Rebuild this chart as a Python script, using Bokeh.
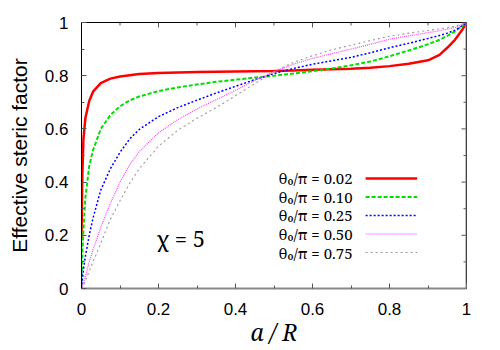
from bokeh.plotting import figure
from bokeh.models import Range1d, FixedTicker, Label, Span
from bokeh.embed import file_html
from bokeh.resources import INLINE

# ---- data ----
a_over_R = [0.0, 0.002, 0.005, 0.01, 0.02, 0.03, 0.05, 0.075, 0.1, 0.125, 0.15, 0.2, 0.25,
            0.3, 0.35, 0.4, 0.45, 0.5, 0.55, 0.6, 0.65, 0.7, 0.75, 0.8, 0.85, 0.9,
            0.93, 0.95, 0.97, 0.99, 1.0]

theta_002 = [0.19, 0.42, 0.56, 0.64, 0.705, 0.74, 0.772, 0.789, 0.797, 0.802, 0.806, 0.81, 0.812,
             0.814, 0.815, 0.816, 0.817, 0.818, 0.82, 0.822, 0.824, 0.826, 0.83, 0.836, 0.845, 0.858,
             0.878, 0.905, 0.935, 0.975, 1.0]
theta_010 = [0.0, 0.12, 0.22, 0.34, 0.46, 0.52, 0.6, 0.652, 0.685, 0.707, 0.722, 0.742, 0.756,
             0.767, 0.777, 0.785, 0.793, 0.8, 0.808, 0.817, 0.827, 0.839, 0.853, 0.873, 0.895, 0.918,
             0.935, 0.95, 0.966, 0.988, 1.0]
theta_025 = [0.0, 0.03, 0.07, 0.12, 0.2, 0.265, 0.37, 0.45, 0.512, 0.562, 0.598, 0.646, 0.68,
             0.708, 0.735, 0.76, 0.785, 0.808, 0.827, 0.843, 0.856, 0.869, 0.886, 0.905, 0.922, 0.94,
             0.951, 0.96, 0.971, 0.989, 1.0]
theta_050 = [0.0, 0.008, 0.02, 0.045, 0.1, 0.145, 0.23, 0.32, 0.4, 0.465, 0.515, 0.585, 0.635,
             0.675, 0.71, 0.745, 0.782, 0.815, 0.843, 0.865, 0.883, 0.9, 0.918, 0.937, 0.95, 0.962,
             0.969, 0.975, 0.981, 0.994, 1.0]
theta_075 = [0.0, 0.004, 0.01, 0.03, 0.065, 0.1, 0.17, 0.26, 0.33, 0.395, 0.45, 0.535, 0.595,
             0.64, 0.68, 0.725, 0.77, 0.815, 0.85, 0.875, 0.897, 0.915, 0.932, 0.948, 0.96, 0.97,
             0.976, 0.98, 0.986, 0.995, 1.0]

series_labels = ["θ₀/π = 0.02", "θ₀/π = 0.10", "θ₀/π = 0.25", "θ₀/π = 0.50", "θ₀/π = 0.75"]
tick_values = [0.0, 0.2, 0.4, 0.6, 0.8, 1.0]
tick_labels = ["0", "0.2", "0.4", "0.6", "0.8", "1"]
minor_tick_values = [0.1, 0.3, 0.5, 0.7, 0.9]

SANS = "Liberation Sans"
SERIF = "Noto Serif"

# ---- styles ----
styles = [
    dict(color="#ff0000", line_width=2.5, line_dash="solid"),
    dict(color="#00e000", line_width=2.0, line_dash="4 2"),
    dict(color="#0000ff", line_width=1.5, line_dash="2 2"),
    dict(color="#ff44ff", line_width=1.2, line_dash="1 1"),
    dict(color="#999999", line_width=1.1, line_dash="2 3"),
]

FRAME_W, FRAME_H = 385, 268
p = figure(width=500, height=350, output_backend="svg", toolbar_location=None,
           x_range=Range1d(0, 1), y_range=Range1d(0, 1),
           min_border_left=81, min_border_right=34, min_border_top=22, min_border_bottom=60)
p.grid.visible = False
p.outline_line_color = "black"
p.outline_line_width = 1
p.background_fill_color = "white"
p.border_fill_color = "white"

ticker = FixedTicker(ticks=tick_values, minor_ticks=minor_tick_values)
overrides = {v: l for v, l in zip(tick_values, tick_labels)}

for ax in (p.xaxis[0], p.yaxis[0]):
    ax.ticker = ticker
    ax.major_label_overrides = overrides
    ax.major_tick_in = 5
    ax.major_tick_out = 0
    ax.minor_tick_in = 3
    ax.minor_tick_out = 0
    ax.major_tick_line_color = "#555555"
    ax.minor_tick_line_color = "#555555"
    ax.major_label_text_font = SANS
    ax.major_label_text_font_size = "17px"
    ax.major_label_text_color = "black"
    ax.axis_label_text_color = "black"

p.xaxis[0].axis_line_color = "#888888"
p.xaxis[0].axis_line_width = 2
p.yaxis[0].axis_line_color = "black"
p.yaxis[0].axis_line_width = 1
p.xaxis[0].major_label_standoff = 14
p.yaxis[0].major_label_standoff = 13

p.xaxis[0].axis_label = "a / R"
p.xaxis[0].axis_label_text_font = SERIF
p.xaxis[0].axis_label_text_font_style = "italic"
p.xaxis[0].axis_label_text_font_size = "23px"
p.xaxis[0].axis_label_standoff = -2

p.yaxis[0].axis_label = "Effective steric factor"
p.yaxis[0].axis_label_text_font = SANS
p.yaxis[0].axis_label_text_font_style = "normal"
p.yaxis[0].axis_label_text_font_size = "21px"
p.yaxis[0].axis_label_standoff = 11

# gray right border
p.add_layout(Span(location=1.0, dimension="height", line_color="#888888", line_width=2))

# mirrored ticks on top and right (inward)
maj_dy, min_dy = 5 / FRAME_H, 3 / FRAME_H
maj_dx, min_dx = 5 / FRAME_W, 3 / FRAME_W
p.segment(x0=tick_values, y0=[1.0] * len(tick_values), x1=tick_values,
          y1=[1.0 - maj_dy] * len(tick_values), line_color="#555555", line_width=1)
p.segment(x0=minor_tick_values, y0=[1.0] * len(minor_tick_values), x1=minor_tick_values,
          y1=[1.0 - min_dy] * len(minor_tick_values), line_color="#555555", line_width=1)
p.segment(x0=[1.0] * len(tick_values), y0=tick_values, x1=[1.0 - maj_dx] * len(tick_values),
          y1=tick_values, line_color="#555555", line_width=1)
p.segment(x0=[1.0] * len(minor_tick_values), y0=minor_tick_values,
          x1=[1.0 - min_dx] * len(minor_tick_values), y1=minor_tick_values,
          line_color="#555555", line_width=1)

all_series = [theta_002, theta_010, theta_025, theta_050, theta_075]
for ys, st in zip(all_series, styles):
    p.line(a_over_R, ys, **st)

# ---- legend (text on the left, sample line on the right) ----
legend_top = 0.414
legend_step = 0.0697
legend_text_x = 0.704
legend_line_x = [0.738, 0.872]
for i, (lab, st) in enumerate(zip(series_labels, styles)):
    yy = legend_top - i * legend_step
    p.add_layout(Label(x=legend_text_x, y=yy, text=lab, text_align="right",
                       text_baseline="middle", text_font=SERIF,
                       text_font_size="15px", text_color="black"))
    p.line(legend_line_x, [yy, yy], **st)

p.add_layout(Label(x=0.195, y=0.19, text="χ = 5", text_align="left", text_baseline="middle",
                   text_font=SERIF, text_font_size="22px", text_color="black"))

open("out.html", "w").write(file_html(p, INLINE))
